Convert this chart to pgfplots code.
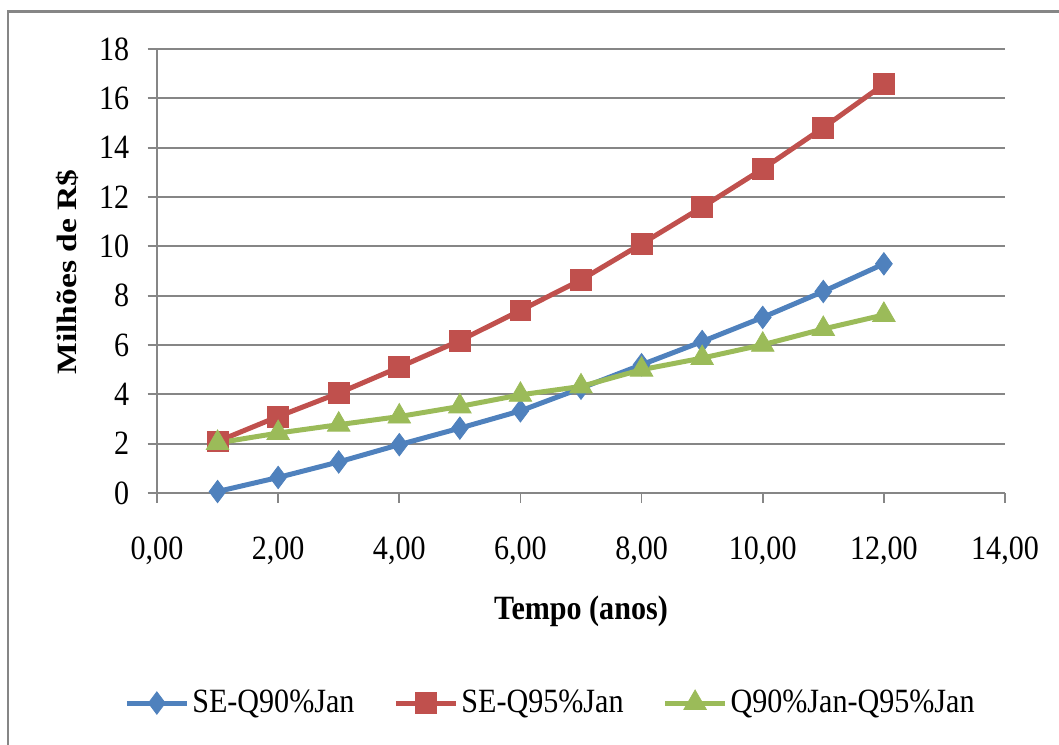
\documentclass[border=0pt]{standalone}
\usepackage{fontspec}
\setmainfont{Liberation Serif}[FakeStretch=0.885]
\newfontfamily\ylabfont{Liberation Serif}[FakeStretch=1.2]
\usepackage{pgfplots}
\pgfplotsset{compat=1.18}
\definecolor{gridgray}{HTML}{868686}
\definecolor{sblue}{HTML}{4F81BD}
\definecolor{sred}{HTML}{C0504D}
\definecolor{sgreen}{HTML}{9BBB59}
\begin{document}
\begin{tikzpicture}
\useasboundingbox (0pt,0pt) rectangle (529.5pt,-372pt);
\draw[line width=1.35pt, gridgray] (4pt,-380pt) -- (4pt,-5.6pt) -- (540pt,-5.6pt);
\begin{axis}[
  at={(78.5pt,-246.5pt)}, anchor=south west,
  width=424pt, height=222pt, scale only axis,
  xmin=0, xmax=14, ymin=0, ymax=18,
  xtick={0,2,...,14}, ytick={0,2,...,18},
  axis x line=bottom, axis y line=left,
  axis line style={-, draw=gridgray, line width=0.85pt},
  tick style={draw=gridgray, line width=0.85pt},
  tick align=outside, major tick length=4.75pt,
  ymajorgrids, grid style={draw=gridgray, line width=0.85pt},
  /pgf/number format/assume math mode=true,
  xticklabel style={/pgf/number format/fixed, /pgf/number format/fixed zerofill, /pgf/number format/precision=2, /pgf/number format/use comma},
  tick label style={font=\fontsize{17}{20}\selectfont, text=black},
  xticklabel style={inner sep=0pt, anchor=north, yshift=-17pt},
  yticklabel style={inner sep=0pt, anchor=east, xshift=-9pt},
  xlabel={\bfseries Tempo (anos)},
  xlabel style={font=\fontsize{17}{20}\selectfont, at={(axis description cs:0.5,-0.286)}, anchor=base, inner sep=0pt},
  ylabel={\ylabfont\bfseries Milhões de R\$},
  ylabel style={font=\fontsize{14}{16}\selectfont, at={(axis description cs:-0.106,0.498)}, anchor=center, rotate=0, inner sep=0pt},
  legend columns=3,
  legend style={draw=none, fill=none, at={(axis description cs:0.4646,-0.473)}, anchor=center,
    font=\fontsize{17}{20}\selectfont, nodes={inner sep=1.5pt},
    /tikz/every even column/.append style={column sep=18pt}},
  legend image code/.code={\draw[mark repeat=2,mark phase=2,#1] plot coordinates {(0pt,0pt) (15pt,0pt) (30pt,0pt)};},
  clip=false,
]
\addplot[sblue, line width=2.5pt, mark=diamond*, mark size=5.6pt, mark options={solid, fill=sblue, line width=0.4pt}]
coordinates {(1,0.06) (2,0.63) (3,1.26) (4,1.96) (5,2.63) (6,3.33) (7,4.25) (8,5.20) (9,6.14) (10,7.12) (11,8.17) (12,9.29)};
\addlegendentry{SE-Q90\%Jan}
\addplot[sred, line width=2.5pt, mark=square*, mark size=5.2pt, mark options={solid, fill=sred, line width=0.4pt}]
coordinates {(1,2.09) (2,3.10) (3,4.05) (4,5.10) (5,6.18) (6,7.40) (7,8.64) (8,10.10) (9,11.59) (10,13.14) (11,14.81) (12,16.57)};
\addlegendentry{SE-Q95\%Jan}
\addplot[sgreen, line width=2.5pt, mark=triangle*, mark size=6.5pt, mark options={solid, fill=sgreen, line width=0.4pt}]
coordinates {(1,2.03) (2,2.43) (3,2.77) (4,3.10) (5,3.51) (6,3.98) (7,4.32) (8,5.00) (9,5.47) (10,6.01) (11,6.65) (12,7.22)};
\addlegendentry{Q90\%Jan-Q95\%Jan}
\end{axis}
\end{tikzpicture}
\end{document}
